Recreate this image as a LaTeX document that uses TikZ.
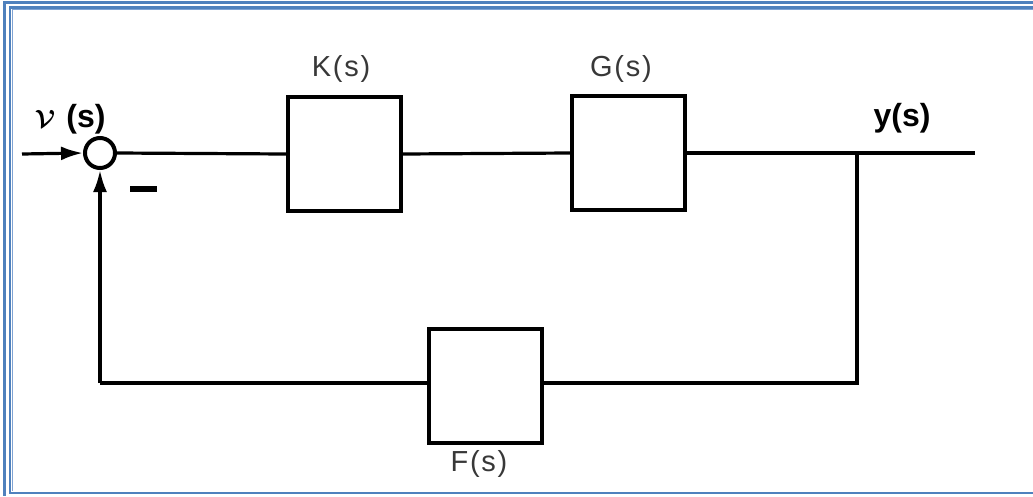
\documentclass[tikz,border=0pt]{standalone}
\usepackage{amsmath}
\usepackage{fontspec}
\setmainfont{Liberation Sans}
\usetikzlibrary{arrows.meta}
\definecolor{frameblue}{HTML}{4F81BD}
\definecolor{frameblue2}{HTML}{7FA3D3}
\tikzset{
  blk/.style={draw, line width=3.6pt, minimum width=113pt, minimum height=114pt, inner sep=0pt},
  wire/.style={line width=3.2pt},
  arr/.style={wire, -{Latex[length=22pt,width=14pt]}},
  lbl/.style={font=\fontsize{29pt}{31pt}\selectfont\addfontfeature{LetterSpace=6}, text=black!78},
  blbl/.style={font=\bfseries\fontsize{32pt}{34pt}\selectfont},
}
\begin{document}
\begin{tikzpicture}[x=1pt,y=-1pt]
\useasboundingbox (0,0) rectangle (1033,496);
% frame
\draw[frameblue, line width=2.2pt] (1033,2.5) -- (4.5,2.5) -- (4.5,496);
\draw[frameblue, line width=2.2pt] (1033,7.5) -- (10,7.5) -- (10,493) -- (1033,493);
\draw[frameblue2, line width=0.8pt] (1033,9.5) -- (12,9.5) -- (12,491);
% blocks
\node[blk] (K) at (344.5,154) {};
\node[blk] (G) at (628.5,153) {};
\node[blk] (F) at (485.5,386) {};
\node[draw, circle, line width=4pt, minimum size=30pt, inner sep=0pt] (sum) at (100,153) {};
\coordinate (in) at (22,154);
\coordinate (out) at (975,153);
\coordinate (br) at (857,153);
\coordinate (brd) at (857,383);
\coordinate (fl) at (100,383);
% labels
\node[lbl] (Kl) at (341,69) {K(s)};
\node[lbl] (Gl) at (621,69) {G(s)};
\node[lbl] (Fl) at (479,464) {F(s)};
\node[blbl] (yl) at (902,118) {y(s)};
\node[font=\fontsize{56pt}{58pt}\selectfont, inner sep=0pt] (Vl) at (45,119) {$\boldsymbol{\mathcal{V}}$};
\node[blbl] (sl) at (86,119) {(s)};
\draw[line width=5.5pt] (130,189) -- (157,189);
% connectors
\draw[arr] (in) -- (sum.west);
\draw[wire] (sum.east) -- (K.west);
\draw[wire] (K.east) -- (G.west);
\draw[wire] (G.east) -- (out);
\draw[wire] (br) -- (brd) -- (F.east |- brd);
\draw[wire] (F.west |- brd) -- (fl);
\draw[arr] (fl) -- (sum.south);
\end{tikzpicture}
\end{document}
